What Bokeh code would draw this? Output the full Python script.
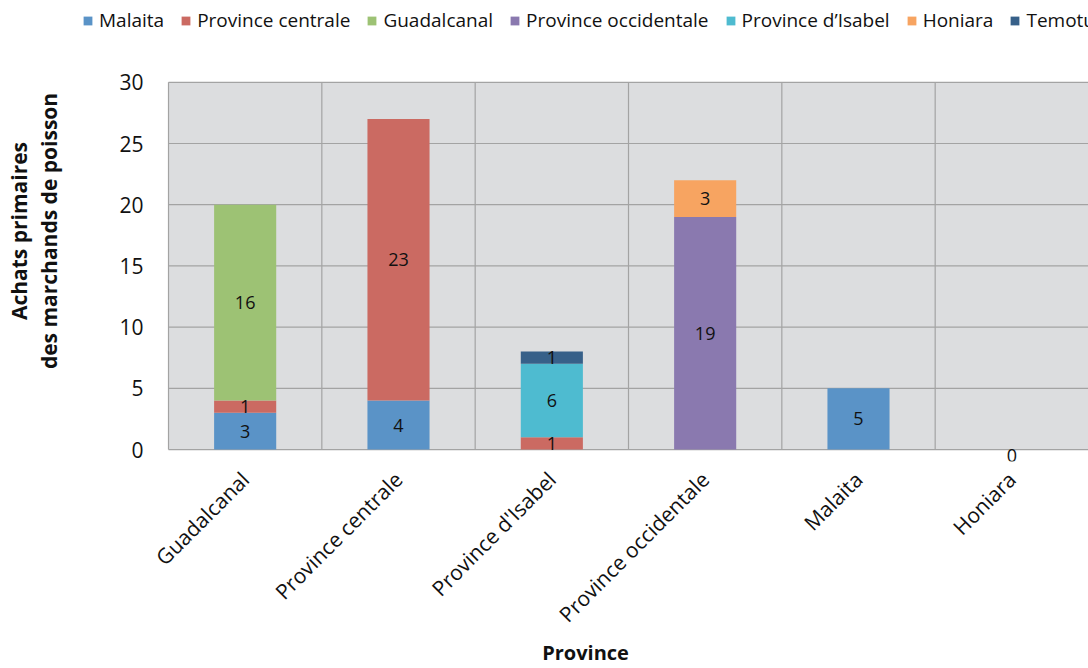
import math
from bokeh.plotting import figure
from bokeh.models import (ColumnDataSource, Range1d, FixedTicker, Legend, LegendItem,
                          LabelSet, BoxAnnotation)
from bokeh.core.properties import value
from bokeh.embed import file_html
from bokeh.resources import INLINE

categories = ["Guadalcanal", "Province centrale", "Province d'Isabel",
              "Province occidentale", "Malaita", "Honiara"]
series = ["Malaita", "Province centrale", "Guadalcanal", "Province occidentale",
          "Province d\u2019Isabel", "Honiara", "Temotu"]
colors = ["#5A93C7", "#CB6A62", "#9DC274", "#8A79AF", "#4EBBD0", "#F7A461", "#376089"]

malaita = [3, 4, 0, 0, 5, 0]
centrale = [1, 23, 1, 0, 0, 0]
guadalcanal = [16, 0, 0, 0, 0, 0]
occidentale = [0, 0, 0, 19, 0, 0]
isabel = [0, 0, 6, 0, 0, 0]
honiara = [0, 0, 0, 3, 0, 0]
temotu = [0, 0, 1, 0, 0, 0]
# categories showing an explicit zero label
zero_label_cats = ["Honiara"]
y_ticks = [0, 5, 10, 15, 20, 25, 30]

values = [malaita, centrale, guadalcanal, occidentale, isabel, honiara, temotu]

FONT = "Open Sans"
GRID = "#A3A3A3"
YMAX = 30
n = len(categories)

# layout in pixels
W, H = 1088, 668
FRAME_L = 82          # frame starts where the legend starts
PLOT_L, PLOT_T, PLOT_B = 168, 82, 450   # plotting area (value axis) in page px
BOTTOM_PANEL = 206
ppu_y = (PLOT_B - PLOT_T) / YMAX
ppu_x = (W - PLOT_L) / n
y_top = YMAX + PLOT_T / ppu_y
y_bot = -((H - BOTTOM_PANEL) - PLOT_B) / ppu_y
x_left = -(PLOT_L - FRAME_L) / ppu_x

p = figure(width=W, height=H, output_backend="svg", toolbar_location=None,
           x_range=Range1d(x_left, n), y_range=Range1d(y_bot, y_top),
           min_border_left=FRAME_L, min_border_right=0, min_border_top=0,
           min_border_bottom=BOTTOM_PANEL)
p.background_fill_color = "white"
p.border_fill_color = "white"
p.outline_line_color = None
p.add_layout(BoxAnnotation(left=0, right=n, bottom=0, top=YMAX,
                           fill_color="#DCDDDF", fill_alpha=1, line_color=None,
                           level="underlay"))

# grid lines, limited to the plotting area
p.xgrid.visible = False
p.ygrid.visible = False
vb = list(range(0, n))
p.segment(x0=vb, y0=[0] * len(vb), x1=vb, y1=[YMAX] * len(vb),
          line_color=GRID, line_width=1.2)
p.segment(x0=[0] * len(y_ticks), y0=y_ticks, x1=[n] * len(y_ticks), y1=y_ticks,
          line_color=GRID, line_width=1.2)

# y tick labels
p.text(x=[0] * len(y_ticks), y=y_ticks, text=[str(t) for t in y_ticks],
       x_offset=-25, text_align="right", text_baseline="middle",
       text_font=value(FONT), text_font_size="21px", text_color="#111111")

xs = [i + 0.5 for i in range(n)]
bottom = [0.0] * n
renderers = []
lab_x, lab_y, lab_t = [], [], []
for name, col, vals in zip(series, colors, values):
    top = [b + v for b, v in zip(bottom, vals)]
    src = ColumnDataSource(dict(x=xs, bottom=bottom, top=top))
    r = p.vbar(x="x", bottom="bottom", top="top", width=0.405, source=src,
               fill_color=col, line_color=None)
    renderers.append((name, r))
    for i, v in enumerate(vals):
        if v > 0:
            lab_x.append(xs[i]); lab_y.append(bottom[i] + v / 2); lab_t.append(str(v))
    bottom = top
for c in zero_label_cats:
    i = categories.index(c)
    lab_x.append(xs[i]); lab_y.append(-0.45); lab_t.append("0")

ls = LabelSet(x="x", y="y", text="t", source=ColumnDataSource(dict(x=lab_x, y=lab_y, t=lab_t)),
              text_align="center", text_baseline="middle", text_font_size="18px",
              text_font=value(FONT), text_color="#111111")
p.add_layout(ls)

# x axis
p.xaxis.ticker = FixedTicker(ticks=xs)
p.xaxis.bounds = (0, n)
p.xaxis.major_label_overrides = {x: c for x, c in zip(xs, categories)}
p.xaxis.major_label_orientation = math.pi / 4
p.xaxis.major_label_text_font_size = "21px"
p.xaxis.major_label_text_font = FONT
p.xaxis.major_label_text_color = "#111111"
p.xaxis.major_label_standoff = 8
p.xaxis.major_tick_line_color = None
p.xaxis.minor_tick_line_color = None
p.xaxis.axis_line_color = None
p.xaxis.axis_label = "Province"
p.xaxis.axis_label_text_font = FONT
p.xaxis.axis_label_text_font_style = "bold"
p.xaxis.axis_label_text_font_size = "20px"
p.xaxis.axis_label_text_color = "#111111"
p.xaxis.axis_label_standoff = -2

# y axis: only its title (tick labels drawn at the plotting area's edge)
p.yaxis.ticker = FixedTicker(ticks=[])
p.yaxis.bounds = (0, YMAX)
p.yaxis.major_label_standoff = 0
p.yaxis.major_tick_out = 0
p.yaxis.major_tick_in = 0
p.yaxis.major_tick_line_color = None
p.yaxis.minor_tick_line_color = None
p.yaxis.axis_line_color = None
p.yaxis.axis_label = "Achats primaires\ndes marchands de poisson"
p.yaxis.axis_label_text_font = FONT
p.yaxis.axis_label_text_font_style = "bold"
p.yaxis.axis_label_text_font_size = "21px"
p.yaxis.axis_label_text_line_height = 1.05
p.yaxis.axis_label_text_color = "#111111"
p.yaxis.axis_label_standoff = 20

legend = Legend(items=[LegendItem(label=nm, renderers=[r]) for nm, r in renderers],
                orientation="horizontal", location=(0, (H - BOTTOM_PANEL) - 34),
                label_text_font=FONT, label_text_font_size="19px",
                label_text_color="#111111",
                glyph_width=11, glyph_height=11, label_standoff=6, spacing=16,
                padding=0, margin=0, border_line_color=None,
                background_fill_alpha=0)
p.add_layout(legend, "center")

open("out.html", "w").write(file_html(p, INLINE))
